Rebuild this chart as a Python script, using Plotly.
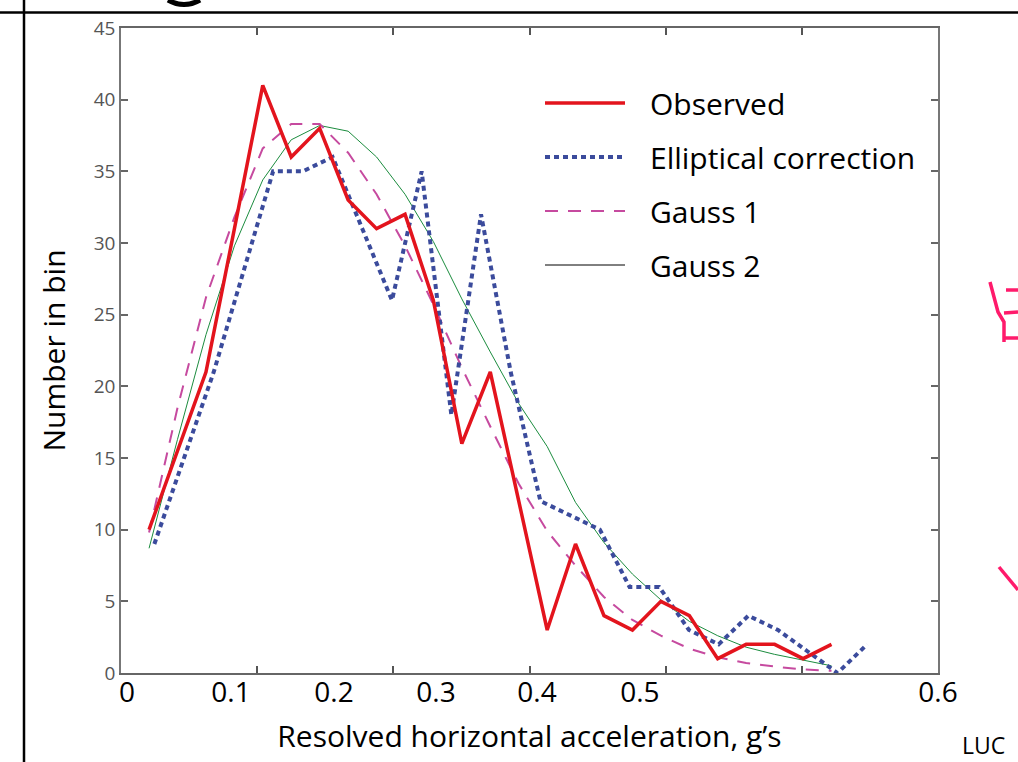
import plotly.graph_objects as go

# ---- data ----
x_bins = [0.0206, 0.0415, 0.0624, 0.0833, 0.1041, 0.1250, 0.1459, 0.1668, 0.1877,
          0.2086, 0.2294, 0.2503, 0.2712, 0.2921, 0.3130, 0.3338, 0.3547, 0.3756,
          0.3965, 0.4174, 0.4382, 0.4591, 0.4800, 0.5009, 0.5218]
observed = [10, 15.5, 21, 31, 41, 36, 38, 33, 31, 32, 26, 16, 21, 12, 3, 9, 4, 3,
            5, 4, 1, 2, 2, 1, 2]
gauss1 = [9.8, 18.5, 26.2, 31.8, 36.6, 38.3, 38.3, 36.3, 33.4, 29.8, 25.7, 21.3,
          17.2, 13.2, 9.9, 7.5, 5.3, 3.7, 2.6, 1.7, 1.1, 0.7, 0.45, 0.25, 0.15]
gauss2 = [8.7, 16.3, 23.6, 29.8, 34.4, 37.2, 38.2, 37.8, 36.0, 33.4, 30.1, 26.1,
          22.4, 18.8, 15.8, 11.9, 9.1, 6.9, 5.1, 3.6, 2.6, 1.8, 1.3, 0.9, 0.5]

x_ell = [0.0245, 0.0463, 0.0681, 0.0899, 0.1117, 0.1336, 0.1554, 0.1772, 0.1990,
         0.2208, 0.2426, 0.2644, 0.2862, 0.3080, 0.3299, 0.3517, 0.3735, 0.3953,
         0.4171, 0.4389, 0.4607, 0.4825, 0.5043, 0.5262, 0.5480]
elliptical = [9, 15, 21, 28, 35, 35, 36, 31, 26, 35, 18, 32, 21, 12, 11, 10, 6, 6,
              3, 2, 4, 3, 1.5, 0, 2]

series_names = ["Observed", "Elliptical correction", "Gauss 1", "Gauss 2"]

# tick marks every 0.1; tick labels as printed on the slide (offset from the marks)
x_tick_marks = [0, 0.1, 0.2, 0.3, 0.4, 0.5, 0.6]
x_tick_text = ["0", "0.1", "0.2", "0.3", "0.4", "0.5", "0.6"]
x_label_pos = [0.0044, 0.0808, 0.1564, 0.2313, 0.3055, 0.3811, 0.6]
y_ticks = [0, 5, 10, 15, 20, 25, 30, 35, 40, 45]

W, H = 1018, 762
ML, MR, MT, MB = 121, 80, 28, 89
PW, PH = W - ML - MR, H - MT - MB

def px(xp):
    return (xp - ML) / PW

def py(yp):
    return (H - MB - yp) / PH

FONT = "Open Sans, Noto Sans, sans-serif"

fig = go.Figure()
fig.add_trace(go.Scatter(x=x_bins, y=gauss2, mode="lines", name=series_names[3],
                         line=dict(color="#1b8c3e", width=1), showlegend=False))
fig.add_trace(go.Scatter(x=x_bins, y=gauss1, mode="lines", name=series_names[2],
                         line=dict(color="#c64a9f", width=2, dash="13px,10px"),
                         showlegend=False))
fig.add_trace(go.Scatter(x=x_ell, y=elliptical, mode="lines", name=series_names[1],
                         line=dict(color="#3b4b9c", width=4, dash="5px,4px"),
                         showlegend=False))
fig.add_trace(go.Scatter(x=x_bins, y=observed, mode="lines", name=series_names[0],
                         line=dict(color="#e3141d", width=3.5), showlegend=False))
# carrier for the label axis
fig.add_trace(go.Scatter(x=[None], y=[None], xaxis="x2", yaxis="y", mode="lines",
                         showlegend=False, hoverinfo="skip"))

# legend entries
leg_styles = [dict(color="#e3141d", width=3.5),
              dict(color="#3b4b9c", width=4, dash="5px,4px"),
              dict(color="#c64a9f", width=2, dash="13px,10px"),
              dict(color="black", width=1)]
for i, (nm, st) in enumerate(zip(series_names, leg_styles)):
    fig.add_trace(go.Scatter(x=[None], y=[None], mode="lines",
                             name="\u2002\u2009" + nm, line=st,
                             legendgroup=f"g{i}", legendrank=i + 1))

fig.update_layout(
    width=W, height=H,
    margin=dict(l=ML, r=MR, t=MT, b=MB),
    paper_bgcolor="white", plot_bgcolor="white",
    font=dict(family=FONT, color="black"),
    showlegend=True,
    legend=dict(x=px(540), y=py(77), xanchor="left", yanchor="top",
                font=dict(size=30, family=FONT, color="black"),
                bgcolor="rgba(0,0,0,0)", itemwidth=80, traceorder="grouped",
                tracegroupgap=12),
    xaxis=dict(range=[0, 0.6], tickmode="array", tickvals=x_tick_marks,
               showticklabels=False, ticks="inside", ticklen=7,
               tickcolor="#555", tickwidth=1.5,
               showline=True, linecolor="#666", linewidth=1.5, mirror="ticks",
               showgrid=False, zeroline=False,
               title=dict(text="Resolved horizontal acceleration, g\u2019s",
                          font=dict(size=30, family=FONT, color="black"), standoff=52)),
    xaxis2=dict(range=[0, 0.6], overlaying="x", anchor="y", side="bottom",
                tickmode="array", tickvals=x_label_pos, ticktext=x_tick_text,
                ticks="", showline=False, showgrid=False, zeroline=False,
                tickfont=dict(size=28, family=FONT, color="black")),
    yaxis=dict(range=[0, 45], tickmode="array", tickvals=y_ticks,
               ticks="inside", ticklen=7, tickcolor="#666", tickwidth=1.5,
               tickfont=dict(size=19, family=FONT, color="#555"),
               showline=True, linecolor="#777", linewidth=1.5, mirror="ticks",
               showgrid=False, zeroline=False,
               title=dict(text="Number in bin",
                          font=dict(size=30, family=FONT, color="black"), standoff=19)),
)

# decorations from the photographed slide
shapes = [
    dict(type="line", xref="paper", yref="paper", x0=px(0), x1=px(W), y0=py(12.5), y1=py(12.5),
         line=dict(color="black", width=2.5)),
    dict(type="line", xref="paper", yref="paper", x0=px(24), x1=px(24), y0=py(0), y1=py(H),
         line=dict(color="black", width=2.5)),
    dict(type="path", xref="paper", yref="paper",
         path=f"M{px(168)},{py(0)} Q{px(184)},{py(9)} {px(200)},{py(0)}",
         line=dict(color="black", width=5)),
]
pink = "#ff1a6b"
pink_paths = [
    [(990, 282), (998, 312), (1004, 322), (1004, 342)],
    [(1006, 290), (1018, 290)],
    [(1004, 313), (1018, 312)],
    [(1003, 338), (1018, 338)],
    [(999, 567), (1018, 590)],
]
for pts in pink_paths:
    p = "M" + " L".join(f"{px(a)},{py(b)}" for a, b in pts)
    shapes.append(dict(type="path", xref="paper", yref="paper", path=p,
                       line=dict(color=pink, width=3.5)))
fig.update_layout(shapes=shapes)

fig.add_annotation(xref="paper", yref="paper", x=px(984), y=py(745), text="LUC",
                   showarrow=False, font=dict(size=23, family=FONT, color="black"),
                   xanchor="center", yanchor="middle")

fig.write_html("out.html")
